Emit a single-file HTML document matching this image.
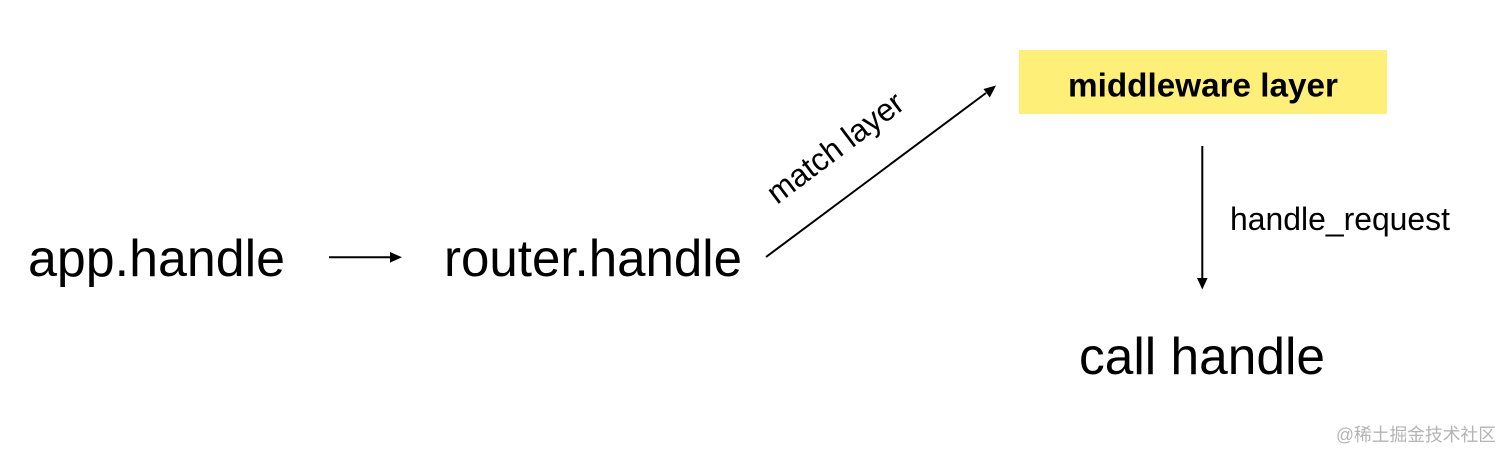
<!DOCTYPE html>
<html>
<head>
<meta charset="utf-8">
<style>
html,body{margin:0;padding:0;background:#fff;}
body{width:1512px;height:461px;overflow:hidden;}
svg{display:block;}
text{font-family:"Liberation Sans",sans-serif;fill:#000;}
</style>
</head>
<body>
<svg width="1512" height="461" viewBox="0 0 1512 461" xmlns="http://www.w3.org/2000/svg">
<rect x="1019" y="50" width="368" height="64" fill="#fdef78"/>
<text x="1068" y="96.5" font-size="33" font-weight="700" textLength="270" lengthAdjust="spacingAndGlyphs">middleware layer</text>
<text x="28" y="276" font-size="52" textLength="257" lengthAdjust="spacingAndGlyphs">app.handle</text>
<text x="444" y="276" font-size="52" textLength="298" lengthAdjust="spacingAndGlyphs">router.handle</text>
<text x="1079" y="374" font-size="52" textLength="246" lengthAdjust="spacingAndGlyphs">call handle</text>
<text x="1230" y="230" font-size="32" textLength="220" lengthAdjust="spacingAndGlyphs">handle_request</text>
<text transform="translate(777 205) rotate(-37)" font-size="32" textLength="162" lengthAdjust="spacingAndGlyphs">match layer</text>
<line x1="329" y1="257.3" x2="392" y2="257.3" stroke="#000" stroke-width="2"/>
<polygon points="402,257.3 390,252 390,262.6" fill="#000"/>
<line x1="766" y1="257" x2="986" y2="93" stroke="#000" stroke-width="2"/>
<polygon points="996,85.5 983.5,89 989.8,97.5" fill="#000"/>
<line x1="1202.3" y1="146" x2="1202.3" y2="280" stroke="#000" stroke-width="2"/>
<polygon points="1202.3,289.5 1197,278 1207.6,278" fill="#000"/>
<text x="1336" y="441" font-size="18" style="font-family:'Liberation Sans','Noto Sans CJK SC',sans-serif;fill:#b4b4b4" textLength="160" lengthAdjust="spacingAndGlyphs">@稀土掘金技术社区</text>
</svg>
</body>
</html>
